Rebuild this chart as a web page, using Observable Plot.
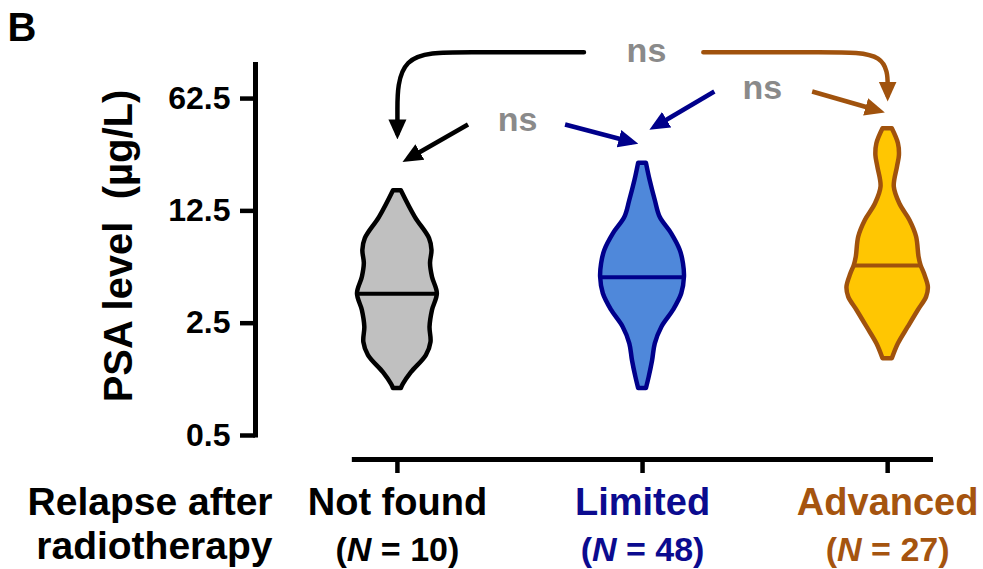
<!DOCTYPE html>
<html>
<head>
<meta charset="utf-8">
<script src="https://cdn.jsdelivr.net/npm/d3@7"></script>
<script src="https://cdn.jsdelivr.net/npm/@observablehq/plot@0.6"></script>
<style>
  html, body { margin: 0; padding: 0; background: #fff; }
  #chart svg text { white-space: pre; }
</style>
</head>
<body>
<div id="chart"></div>
<script>
// ---------- data ----------
const groups = ["Not found", "Limited", "Advanced"];
const groupN = [10, 48, 27];
const groupFill = ["#c0c0c0", "#4f88da", "#ffc602"];
const groupStroke = ["#000000", "#00008b", "#a0520d"];
const labelColor = ["#000000", "#0b0b8f", "#a5540f"];
const medians = [3.81, 4.83, 5.72];

// violin outlines: PSA level (µg/L) and half-width (x units)
const notFoundPSA   = [16.7, 11.4, 8.4, 7.09, 5.88, 4.83, 3.81, 3.0, 2.36, 1.90, 1.57, 1.23, 1.04, 0.98];
const notFoundWidth = [0.016, 0.073, 0.131, 0.141, 0.135, 0.143, 0.163, 0.143, 0.133, 0.137, 0.118, 0.057, 0.024, 0.016];
const limitedPSA    = [24.7, 19.3, 14.5, 11.4, 9.0, 7.09, 5.86, 4.83, 3.81, 3.0, 2.36, 1.86, 1.46, 1.15, 0.98];
const limitedWidth  = [0.016, 0.031, 0.052, 0.072, 0.119, 0.154, 0.167, 0.171, 0.160, 0.126, 0.079, 0.052, 0.041, 0.027, 0.016];
const advancedPSA   = [40.5, 32.7, 27.6, 23.4, 17.6, 13.8, 10.9, 8.6, 6.44, 5.72, 5.07, 4.19, 3.63, 3.0, 2.36, 1.86, 1.50];
const advancedWidth = [0.019, 0.044, 0.048, 0.040, 0.027, 0.050, 0.091, 0.118, 0.128, 0.136, 0.150, 0.166, 0.159, 0.125, 0.084, 0.044, 0.019];

const yTicks = [0.5, 2.5, 12.5, 62.5];
const yTickLabels = ["0.5", "2.5", "12.5", "62.5"];
const yLabel = "PSA level  (µg/L)";
const xTitle = "Relapse after\nradiotherapy";

// "ns" annotations
const nsText = ["ns", "ns", "ns"];
const nsX = [0.490, 1.489, 1.016];
const nsY = [45.7, 72.2, 122.8];

// straight arrows from the lower "ns" labels
const arrowX1 = [0.288, 0.684, 1.293, 1.692];
const arrowY1 = [43.1, 43.1, 69.2, 69.2];
const arrowX2 = [0.042, 0.959, 1.049, 1.965];
const arrowY2 = [26.3, 33.4, 41.7, 52.5];
const arrowColor = ["#000000", "#00008b", "#00008b", "#a0520d"];

// bracket arrows from the top "ns" label
const bracketBlackX = [0.761, 0.265, 0, 0, 0];
const bracketBlackY = [121.5, 121.5, 121.5, 47.9, 37.9];
const bracketBrownX = [1.248, 1.763, 2, 2, 2];
const bracketBrownY = [121.5, 121.5, 121.5, 70.2, 65.3];

// ---------- derived tables ----------
const profiles = [[notFoundPSA, notFoundWidth], [limitedPSA, limitedWidth], [advancedPSA, advancedWidth]];
const violinRows = profiles.flatMap(([psa, w], i) =>
  psa.map((v, j) => ({group: groups[i], idx: i, psa: v, w: w[j], fill: groupFill[i], stroke: groupStroke[i]})));

function widthAt(psa, w, v) {
  for (let j = 0; j < psa.length - 1; j++) {
    if (psa[j] >= v && psa[j + 1] <= v) {
      const t = (Math.log(v) - Math.log(psa[j])) / (Math.log(psa[j + 1]) - Math.log(psa[j]));
      return w[j] + t * (w[j + 1] - w[j]);
    }
  }
  return 0;
}
const medianRows = medians.map((m, i) => {
  const hw = widthAt(profiles[i][0], profiles[i][1], m);
  return {idx: i, m, x1: i - hw, x2: i + hw, stroke: groupStroke[i]};
});
const groupRows = groups.map((g, i) => ({idx: i, name: g, nLabel: `(N = ${groupN[i]})`, color: labelColor[i]}));
const nsRows = nsText.map((t, i) => ({t, x: nsX[i], y: nsY[i]}));
const arrowRows = arrowX1.map((x, i) => ({x1: x, y1: arrowY1[i], x2: arrowX2[i], y2: arrowY2[i], c: arrowColor[i]}));
const bracketBlack = bracketBlackX.map((x, i) => ({x, y: bracketBlackY[i]}));
const bracketBrown = bracketBrownX.map((x, i) => ({x, y: bracketBrownY[i]}));

const font = "'Liberation Sans', Arial, Helvetica, sans-serif";
const xMin = -0.579;
const xMax = 2.187;

const plot = Plot.plot({
  width: 983,
  height: 569,
  marginLeft: 255,
  marginRight: 50,
  marginTop: 62,
  marginBottom: 134,
  x: {domain: [xMin, xMax]},
  y: {type: "log", domain: [0.5, 104.8]},
  color: {type: "identity"},
  style: {fontFamily: font, background: "white", overflow: "visible", color: "black"},
  marks: [
    // violins
    Plot.areaX(violinRows, {
      x1: d => d.idx - d.w, x2: d => d.idx + d.w, y: "psa", z: "group",
      fill: "fill", stroke: "stroke", strokeWidth: 4.5, strokeLinejoin: "round",
      curve: "catmull-rom"
    }),
    // medians
    Plot.ruleY(medianRows, {y: "m", x1: "x1", x2: "x2", stroke: "stroke", strokeWidth: 4}),
    // y axis
    Plot.ruleX([xMin], {y1: 0.482, y2: 104.8, strokeWidth: 5}),
    Plot.axisY({ticks: yTicks, tickFormat: () => "", tickSize: 15, strokeWidth: 4.5, label: null}),
    Plot.text(yTicks, {y: d => d, text: (d, i) => yTickLabels[i], frameAnchor: "left", textAnchor: "end",
      dx: -25, fontSize: 32, fontWeight: "bold"}),
    // x axis
    Plot.ruleY([0.5], {x1: -0.184, x2: xMax, dy: 24, strokeWidth: 5}),
    Plot.axisX({ticks: [0, 1, 2], tickFormat: () => "", tickSize: 14, dy: 24, strokeWidth: 4.5, label: null}),
    // category labels
    Plot.text(groupRows, {x: "idx", text: "name", frameAnchor: "bottom", lineAnchor: "top", dy: 53,
      fontSize: 38, fontWeight: "bold", fill: "color"}),
    Plot.text(groupRows, {x: "idx", text: "nLabel", frameAnchor: "bottom", lineAnchor: "top", dy: 101,
      fontSize: 34, fontWeight: "bold", fill: "color"}),
    Plot.text([xTitle], {frameAnchor: "bottom-left", dx: 17, dy: 48, textAnchor: "end", lineAnchor: "top",
      lineHeight: 1.13, fontSize: 39, fontWeight: "bold"}),
    // y label
    Plot.text([yLabel], {frameAnchor: "left", textAnchor: "middle", rotate: -90, dx: -136, dy: -3,
      fontSize: 40, fontWeight: "bold"}),
    // panel letter
    Plot.text(["B"], {frameAnchor: "top-left", dx: -248, dy: -50, textAnchor: "start", lineAnchor: "top",
      fontSize: 40, fontWeight: "bold"}),
    // annotations
    Plot.line(bracketBlack, {x: "x", y: "y", stroke: "#000000", strokeWidth: 4.5, curve: "basis"}),
    Plot.line(bracketBrown, {x: "x", y: "y", stroke: "#a0520d", strokeWidth: 4.5, curve: "basis"}),
    Plot.link(arrowRows, {x1: "x1", y1: "y1", x2: "x2", y2: "y2", stroke: "c", strokeWidth: 4.5}),
    Plot.text(nsRows, {x: "x", y: "y", text: "t", fill: "#8a8a8a", fontSize: 34, fontWeight: "bold"})
  ]
});

document.getElementById("chart").appendChild(plot);

// ---------- post-processing: filled arrowheads and italic N ----------
const root = plot.tagName.toLowerCase() === "svg" ? plot : plot.querySelector("svg");
const svg = d3.select(root);
const defs = svg.append("defs");
const markerIds = {};
["#000000", "#00008b", "#a0520d"].forEach((c, k) => {
  const id = "arrowhead-" + k;
  markerIds[c] = id;
  defs.append("marker")
    .attr("id", id).attr("viewBox", "0 0 20 20").attr("refX", 14).attr("refY", 10)
    .attr("markerWidth", 20).attr("markerHeight", 20).attr("markerUnits", "userSpaceOnUse")
    .attr("orient", "auto")
    .append("path").attr("d", "M0,1L20,10L0,19Z").attr("fill", c);
});
svg.selectAll('g[aria-label="line"] path, g[aria-label="link"] path').each(function () {
  const s = (this.getAttribute("stroke") || this.parentNode.getAttribute("stroke") || "").toLowerCase();
  if (markerIds[s]) this.setAttribute("marker-end", `url(#${markerIds[s]})`);
});
svg.selectAll("text").each(function () {
  const target = this.querySelector("tspan") || this;
  const t = target.textContent;
  if (!/^\(N = /.test(t)) return;
  target.textContent = "";
  target.appendChild(document.createTextNode("("));
  const ts = document.createElementNS("http://www.w3.org/2000/svg", "tspan");
  ts.setAttribute("font-style", "italic");
  ts.textContent = "N";
  target.appendChild(ts);
  target.appendChild(document.createTextNode(t.slice(2)));
});
</script>
</body>
</html>
